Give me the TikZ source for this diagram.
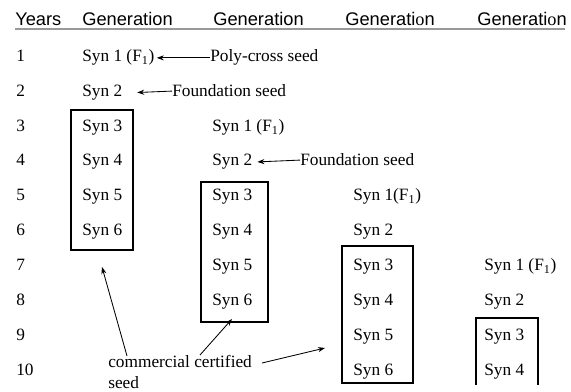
\documentclass[tikz,border=0pt]{standalone}
\usepackage{fontspec}
\setmainfont{Liberation Serif}
\setsansfont{Liberation Sans}
\usetikzlibrary{arrows.meta}
\newcommand{\synfont}{\fontsize{12.3}{14.5}\selectfont}
\newcommand{\hdrfont}{\sffamily\fontsize{13}{15}\selectfont}
\tikzset{
  syn/.style={anchor=base west, inner sep=0pt, font=\synfont},
  hdr/.style={anchor=base west, inner sep=0pt, font=\hdrfont},
  gbox/.style={black, line width=1.2pt},
  note/.style={black, line width=0.6pt, ->},
}
\begin{document}
\begin{tikzpicture}[x=0.025cm, y=-0.025cm, >={Stealth[length=5pt,width=3.6pt]}]
  \useasboundingbox (0,0) rectangle (571,392);

  % header
  \node [hdr] at (15, 26) (hy) {Years};
  \node [hdr] at (82, 26) (hg1) {Generation};
  \node [hdr] at (213, 26) (hg2) {Generation};
  \node [hdr] at (345, 26) (hg3) {Generati{\rmfamily o}n};
  \node [hdr] at (477, 26) (hg4) {Generati{\rmfamily o}n};
  \draw [gray!80, line width=1.2pt] (15, 29) -- (565, 29);

  % years
  \node [syn] at (16, 62) (y1) {1};
  \node [syn] at (16, 97) (y2) {2};
  \node [syn] at (16, 132) (y3) {3};
  \node [syn] at (16, 166) (y4) {4};
  \node [syn] at (16, 201) (y5) {5};
  \node [syn] at (16, 236) (y6) {6};
  \node [syn] at (16, 271) (y7) {7};
  \node [syn] at (16, 306) (y8) {8};
  \node [syn] at (16, 340) (y9) {9};
  \node [syn] at (16, 375) (y10) {10};

  % first generation
  \node [syn] at (82, 62) (s11) {Syn 1 (F\textsubscript{1})};
  \node [syn] at (82, 97) (s12) {Syn 2};
  \node [syn] at (82, 132) (s13) {Syn 3};
  \node [syn] at (82, 166) (s14) {Syn 4};
  \node [syn] at (82, 201) (s15) {Syn 5};
  \node [syn] at (82, 236) (s16) {Syn 6};
  \draw [gbox] (71, 110) rectangle (133, 250);

  \node [syn] at (210, 62) (poly) {Poly-cross seed};
  \draw [note, shorten >=1.5pt] (poly.west) -- (s11.east);
  \node [syn] at (172, 97) (fs1) {Foundation seed};
  \draw [note, shorten >=10.5pt] (fs1.west) -- (s12.east);

  % second generation
  \node [syn] at (212, 132) (s21) {Syn 1 (F\textsubscript{1})};
  \node [syn] at (212, 166) (s22) {Syn 2};
  \node [syn] at (212, 201) (s23) {Syn 3};
  \node [syn] at (212, 236) (s24) {Syn 4};
  \node [syn] at (212, 271) (s25) {Syn 5};
  \node [syn] at (212, 306) (s26) {Syn 6};
  \draw [gbox] (201, 182) rectangle (268, 322);

  \node [syn] at (300, 166) (fs2) {Foundation seed};
  \draw [note, shorten >=3.5pt] (fs2.west) -- (s22.east);

  % third generation
  \node [syn] at (353, 201) (s31) {Syn 1(F\textsubscript{1})};
  \node [syn] at (353, 236) (s32) {Syn 2};
  \node [syn] at (353, 271) (s33) {Syn 3};
  \node [syn] at (353, 306) (s34) {Syn 4};
  \node [syn] at (353, 340) (s35) {Syn 5};
  \node [syn] at (353, 375) (s36) {Syn 6};
  \draw [gbox] (342, 246) rectangle (413, 383);

  % fourth generation
  \node [syn] at (484, 271) (s41) {Syn 1 (F\textsubscript{1})};
  \node [syn] at (484, 306) (s42) {Syn 2};
  \node [syn] at (484, 340) (s43) {Syn 3};
  \node [syn] at (484, 375) (s44) {Syn 4};
  \draw [gbox] (476, 385) -- (476, 318) -- (538, 318) -- (538, 385);

  % commercial seed
  \node [syn, align=left] at (108, 388) (ccs) {commercial certified\\seed};
  \coordinate (cc1) at (127, 356);
  \coordinate (cc2) at (200, 355);
  \coordinate (cc3) at (262, 363);
  \coordinate (b1) at (102, 267);
  \coordinate (b2) at (232, 319);
  \coordinate (b3) at (325, 348);
  \draw [note] (cc1) -- (b1);
  \draw [note] (cc2) -- (b2);
  \draw [note] (cc3) -- (b3);
\end{tikzpicture}
\end{document}
